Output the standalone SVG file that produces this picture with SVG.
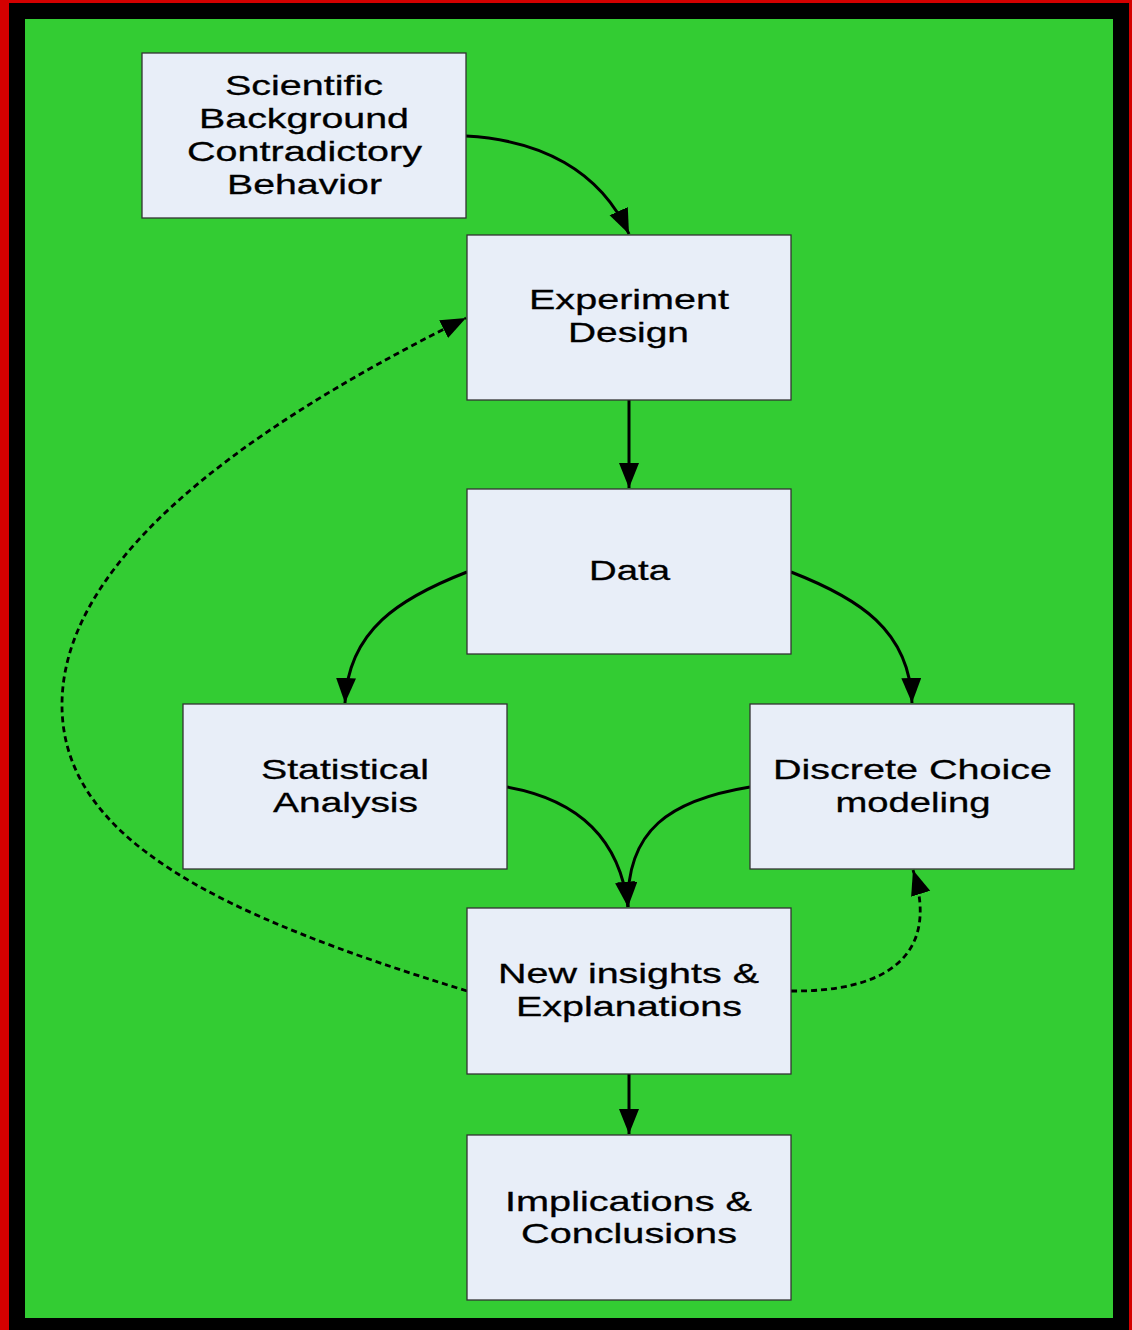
<svg xmlns="http://www.w3.org/2000/svg" width="1132" height="1330" viewBox="0 0 1132 1330">
<style>
.box{fill:#E8EEF8;stroke:#333;stroke-width:1.3}
.t{font-family:"Liberation Sans",Arial,sans-serif;font-size:28px;fill:#000;stroke:#000;stroke-width:0.3;text-anchor:middle}
.c{fill:none;stroke:#000;stroke-width:3}
.d{fill:none;stroke:#000;stroke-width:2.8;stroke-dasharray:6 4}
</style>
<defs>
<marker id="ah" markerUnits="userSpaceOnUse" markerWidth="28" markerHeight="22" refX="25" refY="10" orient="auto">
<path d="M0,0 L25,10 L0,20 Z" fill="#000"/>
</marker>
</defs>
<rect x="0" y="0" width="1132" height="1330" fill="#D40000"/>
<rect x="9" y="3" width="1120" height="1327" fill="#000"/>
<rect x="25" y="19" width="1088" height="1299" fill="#33CC33"/>
<g id="connectors">
<path class="c" d="M466,136 C540,140 600,170 629,234" marker-end="url(#ah)"/>
<path class="c" d="M629,400 L629,488" marker-end="url(#ah)"/>
<path class="c" d="M467,572 C400,598 348,630 345,703" marker-end="url(#ah)"/>
<path class="c" d="M791,572 C858,598 910,630 912,703" marker-end="url(#ah)"/>
<path class="c" d="M507,787 C580,800 620,840 628,907" marker-end="url(#ah)"/>
<path class="c" d="M750,787 C670,800 626,830 628,907" marker-end="url(#ah)"/>
<path class="c" d="M629,1074 L629,1134" marker-end="url(#ah)"/>
<path class="d" d="M791,991 C880,992 942,960 913,870" marker-end="url(#ah)"/>
<path class="d" d="M467,991 C220,915 62,840 62,705 C62,570 220,440 466,318" marker-end="url(#ah)"/>
</g>
<g id="n1"><rect class="box" x="142" y="53" width="324" height="165"/>
<text class="t" x="304" y="95" textLength="158" lengthAdjust="spacingAndGlyphs">Scientific</text>
<text class="t" x="304" y="128" textLength="210" lengthAdjust="spacingAndGlyphs">Background</text>
<text class="t" x="304.5" y="161" textLength="235" lengthAdjust="spacingAndGlyphs">Contradictory</text>
<text class="t" x="304.5" y="194" textLength="155" lengthAdjust="spacingAndGlyphs">Behavior</text></g>
<g id="n2"><rect class="box" x="467" y="235" width="324" height="165"/>
<text class="t" x="629" y="309" textLength="200" lengthAdjust="spacingAndGlyphs">Experiment</text>
<text class="t" x="628.5" y="342" textLength="121" lengthAdjust="spacingAndGlyphs">Design</text></g>
<g id="n3"><rect class="box" x="467" y="489" width="324" height="165"/>
<text class="t" x="629.5" y="580" textLength="81" lengthAdjust="spacingAndGlyphs">Data</text></g>
<g id="n4"><rect class="box" x="183" y="704" width="324" height="165"/>
<text class="t" x="345" y="779" textLength="168" lengthAdjust="spacingAndGlyphs">Statistical</text>
<text class="t" x="345.5" y="812" textLength="145" lengthAdjust="spacingAndGlyphs">Analysis</text></g>
<g id="n5"><rect class="box" x="750" y="704" width="324" height="165"/>
<text class="t" x="912.5" y="779" textLength="279" lengthAdjust="spacingAndGlyphs">Discrete Choice</text>
<text class="t" x="913" y="812" textLength="155" lengthAdjust="spacingAndGlyphs">modeling</text></g>
<g id="n6"><rect class="box" x="467" y="908" width="324" height="166"/>
<text class="t" x="628.5" y="983" textLength="261" lengthAdjust="spacingAndGlyphs">New insights &amp;</text>
<text class="t" x="629" y="1016" textLength="226" lengthAdjust="spacingAndGlyphs">Explanations</text></g>
<g id="n7"><rect class="box" x="467" y="1135" width="324" height="165"/>
<text class="t" x="628.5" y="1211" textLength="247" lengthAdjust="spacingAndGlyphs">Implications &amp;</text>
<text class="t" x="629" y="1243" textLength="216" lengthAdjust="spacingAndGlyphs">Conclusions</text></g>
</svg>
